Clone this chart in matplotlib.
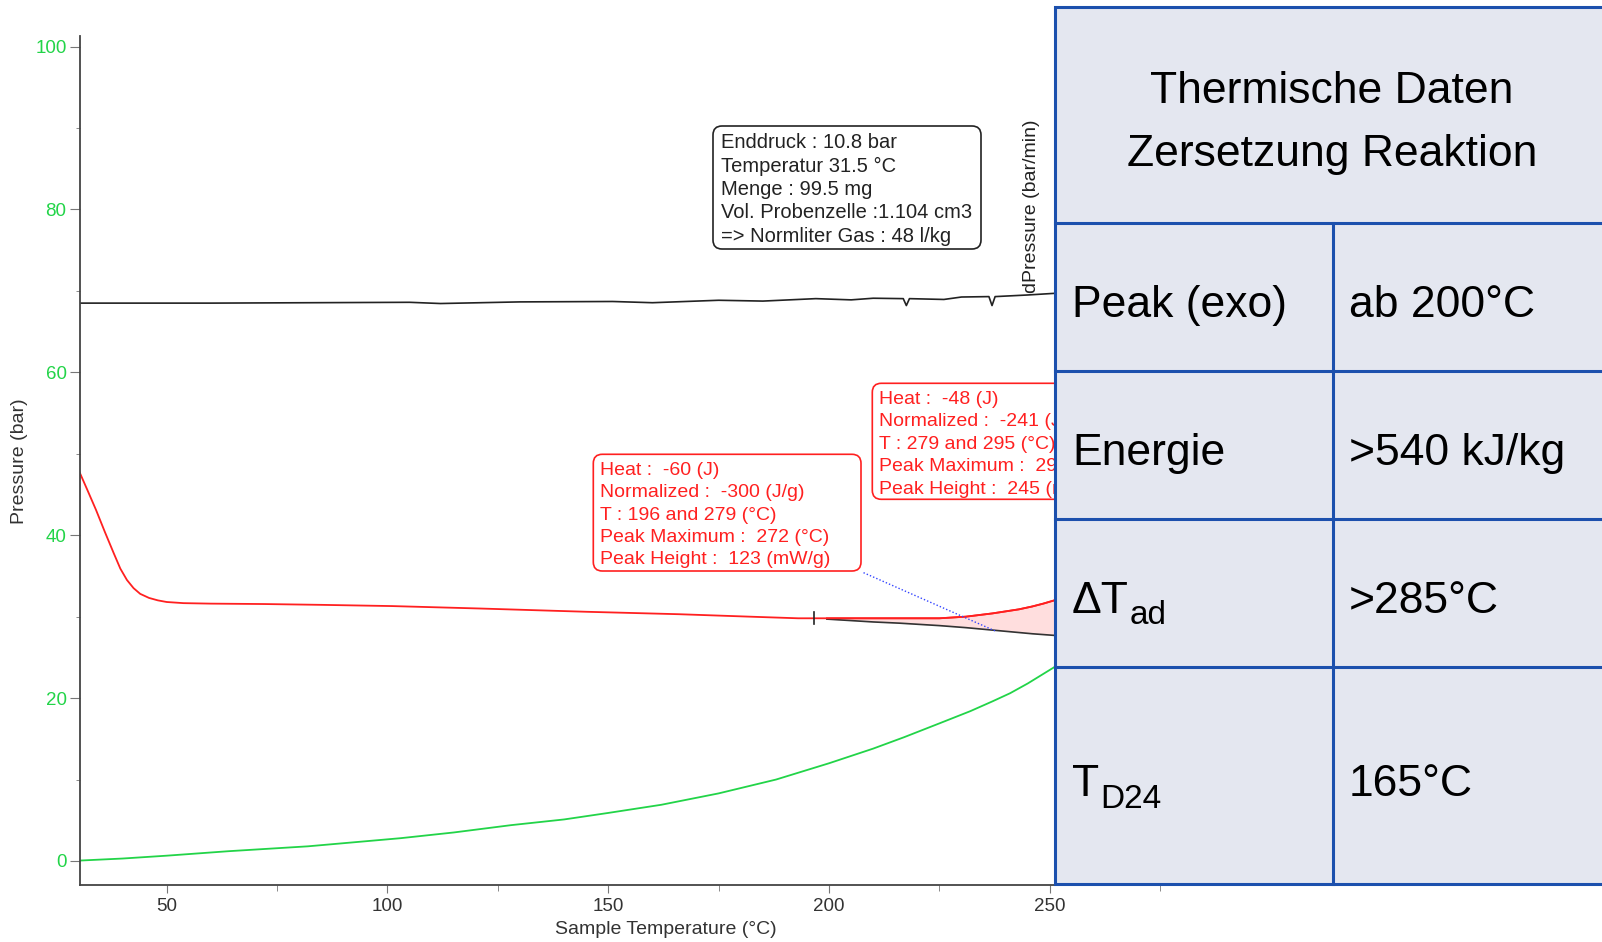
import matplotlib
matplotlib.use("Agg")
import matplotlib.pyplot as plt
from matplotlib.patches import Rectangle, FancyBboxPatch
from matplotlib.lines import Line2D
from matplotlib.transforms import IdentityTransform, Bbox

plt.rcParams['font.family'] = ['Liberation Sans', 'DejaVu Sans']

W, H = 1602, 942

# --- values (x = sample temperature in degC) ---
temp_black = [30.3, 60, 105, 112, 130, 151, 160, 175, 185, 197, 205, 210, 216.8,
              217.5, 218.2, 226, 230, 236.2, 236.9, 237.6, 245, 251]
press_black = [68.5, 68.5, 68.6, 68.45, 68.65, 68.7, 68.55, 68.85, 68.75, 69.05, 68.9,
               69.1, 69.05, 68.2, 69.05, 68.95, 69.25, 69.3, 68.2, 69.3, 69.5, 69.7]

temp_red = [30.3, 32, 34, 36, 38, 39.5, 41, 42.5, 44, 46, 48, 50, 53.8, 60, 72, 85,
            101, 121, 145, 166, 182, 193, 210, 225, 231, 234, 237, 240, 243, 246,
            248.5, 251]
press_red = [47.7, 45.6, 43.1, 40.4, 37.8, 35.9, 34.5, 33.5, 32.8, 32.3, 32.0, 31.8,
             31.66, 31.6, 31.55, 31.45, 31.3, 31.0, 30.6, 30.3, 30.0, 29.8, 29.8, 29.8,
             30.0, 30.2, 30.4, 30.65, 30.9, 31.25, 31.6, 32.0]

temp_green = [30.3, 40, 50, 64, 82, 103, 115, 128, 140, 150, 162, 175, 188, 200, 210,
              217, 225, 232, 237, 241, 245, 248, 251]
press_green = [0.05, 0.3, 0.65, 1.2, 1.8, 2.8, 3.5, 4.4, 5.1, 5.9, 6.9, 8.3, 10.0, 12.0,
               13.8, 15.2, 16.9, 18.4, 19.6, 20.6, 21.8, 22.8, 23.8]

# integrated peak: red signal above the black baseline
peak_temp = [199.5, 210, 216, 225, 231, 234, 237, 240, 243, 246, 248.5, 251]
peak_top = [29.8, 29.8, 29.8, 29.8, 30.0, 30.2, 30.4, 30.65, 30.9, 31.25, 31.6, 32.0]
peak_base = [29.7, 29.35, 29.2, 28.9, 28.65, 28.5, 28.35, 28.2, 28.05, 27.9, 27.8, 27.7]

peak_start = 196.6
leader_temp = [207.8, 237.6]
leader_press = [35.4, 28.25]

info_lines = ["Enddruck : 10.8 bar", "Temperatur 31.5 \u00b0C", "Menge : 99.5 mg",
              "Vol. Probenzelle :1.104 cm3", "=> Normliter Gas : 48 l/kg"]
peak1_lines = ["Heat :  -60 (J)", "Normalized :  -300 (J/g)", "T : 196 and 279 (\u00b0C)",
               "Peak Maximum :  272 (\u00b0C)", "Peak Height :  123 (mW/g)"]
peak2_lines = ["Heat :  -48 (J)", "Normalized :  -241 (J/g)", "T : 279 and 295 (\u00b0C)",
               "Peak Maximum :  290 (\u00b0C)", "Peak Height :  245 (mW/g)"]

table_title = ["Thermische Daten", "Zersetzung Reaktion"]
table_keys = ["Peak (exo)", "Energie", "\u0394T", "T"]
table_subs = ["", "", "ad", "D24"]
table_vals = ["ab 200\u00b0C", ">540 kJ/kg", ">285\u00b0C", "165\u00b0C"]

GREEN = '#22d448'
RED = '#ff2020'
BLUE = '#1c50ad'

fig = plt.figure(figsize=(W / 100, H / 100), dpi=100)
PIX = IdentityTransform()


def fx(px):
    return px / W


def fy(py):
    return 1 - py / H


ax = fig.add_axes([fx(79.7), fy(885), fx(1253) - fx(79.7), fy(36) - fy(885)])

ax.plot(temp_black, press_black, color='#222222', lw=1.2)
ax.plot(temp_red, press_red, color=RED, lw=1.3)
ax.plot(temp_green, press_green, color=GREEN, lw=1.3)
ax.fill_between(peak_temp, peak_base, peak_top, color='#ffdede', lw=0)
ax.plot(peak_temp, peak_base, color='#333333', lw=1.2)
ax.plot(peak_temp, peak_top, color=RED, lw=1.3)
ax.plot([peak_start, peak_start], [29.1, 30.6], color='#222222', lw=1.2)
ax.plot(leader_temp, leader_press, color='#3344ff', lw=1.0, ls=(0, (1, 1.5)))

ax.set_xlim(30.3, 296)
ax.set_ylim(-2.95, 101.3)
ax.set_xticks([50, 100, 150, 200, 250])
ax.set_xticks([75, 125, 175, 225, 275], minor=True)
ax.set_yticks([0, 20, 40, 60, 80, 100])
ax.set_yticks([10, 30, 50, 70, 90], minor=True)
for s in ['top', 'right']:
    ax.spines[s].set_visible(False)
for s in ['left', 'bottom']:
    ax.spines[s].set_color('#444444')
    ax.spines[s].set_linewidth(1.3)
ax.tick_params(axis='y', which='major', length=7, color='#777777', labelcolor=GREEN,
               labelsize=13.5, pad=2.5)
ax.tick_params(axis='y', which='minor', length=3, color='#777777')
ax.tick_params(axis='x', which='major', length=6, color='#777777', labelcolor='#333333',
               labelsize=13.5, pad=3.5)
ax.tick_params(axis='x', which='minor', length=4, color='#777777')

fig.text(19.3, H - 461, "Pressure (bar)", rotation=90, ha='center', va='center',
         fontsize=14, color='#333333', transform=PIX)
fig.text(666, H - 934, "Sample Temperature (\u00b0C)", ha='center', va='baseline',
         fontsize=14, color='#333333', transform=PIX)
fig.text(1031.7, H - 293, "dPressure (bar/min)", rotation=90, ha='center', va='bottom',
         fontsize=14, color='#222222', transform=PIX)

# everything left of the table stays visible, the rest is hidden under it
TX0, TY0, TY1 = 1055, 7, 884
visible = Bbox.from_extents(0, 0, TX0, H)


def note_box(x0, y0, x1, y1, tx, base0, step, lines, color, size):
    box = FancyBboxPatch((x0, H - y1), x1 - x0, y1 - y0,
                         boxstyle='round,pad=0,rounding_size=9', transform=PIX,
                         fc='white', ec=color, lw=1.2, zorder=3)
    fig.add_artist(box)
    box.set_clip_box(visible)
    for i, line in enumerate(lines):
        t = fig.text(tx, H - (base0 + i * step), line, ha='left', va='baseline',
                     fontsize=size, color=color, transform=PIX, zorder=4)
        t.set_clip_box(visible)
        t.set_clip_on(True)


note_box(713, 126, 981, 249, 720.7, 148.3, 23.35, info_lines, '#222222', 14.5)
note_box(593.3, 454.3, 861, 571, 600, 475, 22.35, peak1_lines, RED, 14)
note_box(872.3, 383.3, 1150, 499.3, 879, 404, 22.4, peak2_lines, RED, 14)

# --- overlay table on the right ---
rows = [223, 371, 519, 667]
col = 1333
fig.add_artist(Rectangle((TX0, H - TY1), W + 20 - TX0, TY1 - TY0, transform=PIX,
                         fc='#e4e7f0', ec=BLUE, lw=2.2, zorder=5))
for r in rows:
    fig.add_artist(Line2D([TX0, W + 20], [H - r, H - r], transform=PIX, color=BLUE,
                          lw=2.2, zorder=6))
fig.add_artist(Line2D([col, col], [H - rows[0], H - TY1], transform=PIX, color=BLUE,
                      lw=2.2, zorder=6))

TSIZE = 32
for line, base in zip(table_title, [103, 166]):
    fig.text(1332, H - base, line, ha='center', va='baseline', fontsize=TSIZE,
             transform=PIX, zorder=7)

key_base = [317, 465, 613, 796]
sub_drop = [0, 0, 11, 12]
renderer = fig.canvas.get_renderer()
for key, sub, val, base, drop in zip(table_keys, table_subs, table_vals, key_base, sub_drop):
    t = fig.text(1072, H - base, key, ha='left', va='baseline', fontsize=TSIZE,
                 transform=PIX, zorder=7)
    if sub:
        x_end = t.get_window_extent(renderer).x1
        fig.text(x_end + 1, H - base - drop, sub, ha='left', va='baseline', fontsize=24,
                 transform=PIX, zorder=7)
    fig.text(1349, H - base, val, ha='left', va='baseline', fontsize=TSIZE,
             transform=PIX, zorder=7)

fig.savefig('out.png', dpi=100)
